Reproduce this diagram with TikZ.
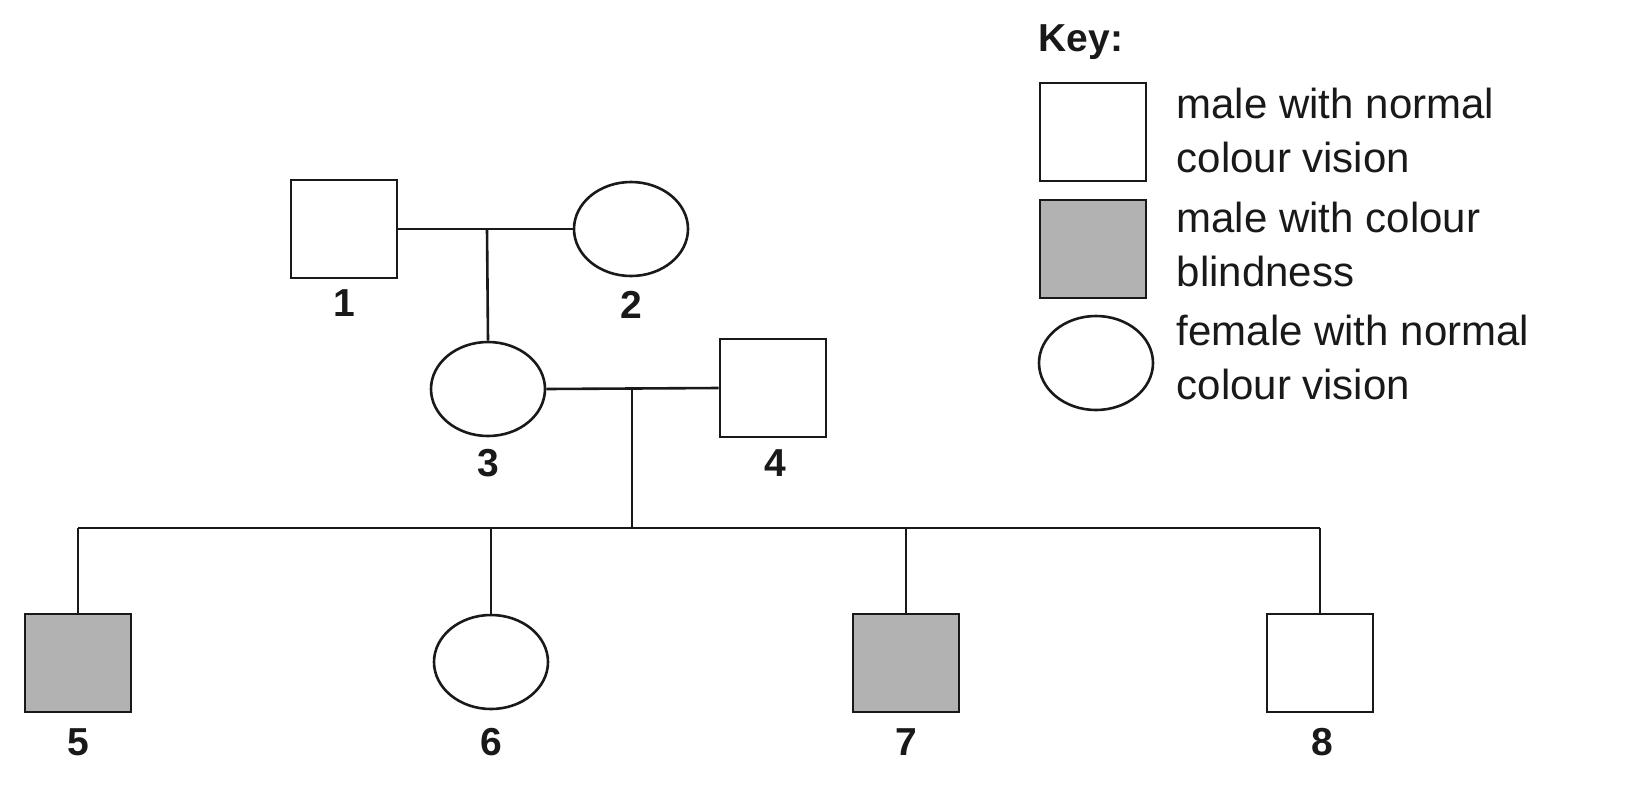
\documentclass[tikz,border=0pt]{standalone}
\usepackage{fontspec}
\setmainfont{Liberation Sans}
\usetikzlibrary{shapes.geometric}
\begin{document}
\begin{tikzpicture}[x=1pt,y=-1pt,line width=2.6pt,
  m/.style={draw=black!90,rectangle,minimum width=106pt,minimum height=98pt,inner sep=0pt},
  a/.style={m,fill=black!30},
  f/.style={draw=black!90,ellipse,minimum width=114pt,minimum height=94pt,inner sep=0pt},
  lab/.style={font=\fontsize{39}{42}\selectfont\bfseries,text=black!90},
  kt/.style={font=\fontsize{42}{54}\selectfont,text=black!90,align=left,anchor=west}]
\useasboundingbox (0,0) rectangle (1632,809);
\node[m] (n1) at (344,229) {};
\node[f] (n2) at (631,229) {};
\node[f] (n3) at (488,389) {};
\node[m] (n4) at (773,388) {};
\node[a] (n5) at (78,663) {};
\node[f] (n6) at (491,662) {};
\node[a] (n7) at (906,663) {};
\node[m] (n8) at (1320,663) {};
\node[lab] at (344,303) {1};
\node[lab] at (631,305) {2};
\node[lab] at (488,463) {3};
\node[lab] at (775,463) {4};
\node[lab] at (78,742) {5};
\node[lab] at (491,742) {6};
\node[lab] at (906,742) {7};
\node[lab] at (1322,742) {8};
\coordinate (c1) at (487,229);
\coordinate (c2) at (632,388);
\coordinate (c3) at (632,528);
\coordinate (l) at (78,528);
\coordinate (r) at (1320,528);
\draw[black!90] (n1.east) -- (n2.west);
\draw[black!90] (c1) -- (n3.north);
\draw[black!90] (n3.east) -- (n4.west);
\draw[black!90] (c2) -- (c3);
\draw[black!90] (l) -- (r);
\draw[black!90] (l) -- (n5.north);
\draw[black!90] (n6.north|-l) -- (n6.north);
\draw[black!90] (n7.north|-l) -- (n7.north);
\draw[black!90] (r) -- (n8.north);
\node[lab,anchor=west] at (1034,42) {Key:};
\node[m] (k1) at (1093,132) {};
\node[a] (k2) at (1093,249) {};
\node[f] (k3) at (1096,363) {};
\node[kt] (t1) at (1172,130) {male with normal\\colour vision};
\node[kt] (t2) at (1172,244) {male with colour\\blindness};
\node[kt] (t3) at (1172,357) {female with normal\\colour vision};
\end{tikzpicture}
\end{document}
